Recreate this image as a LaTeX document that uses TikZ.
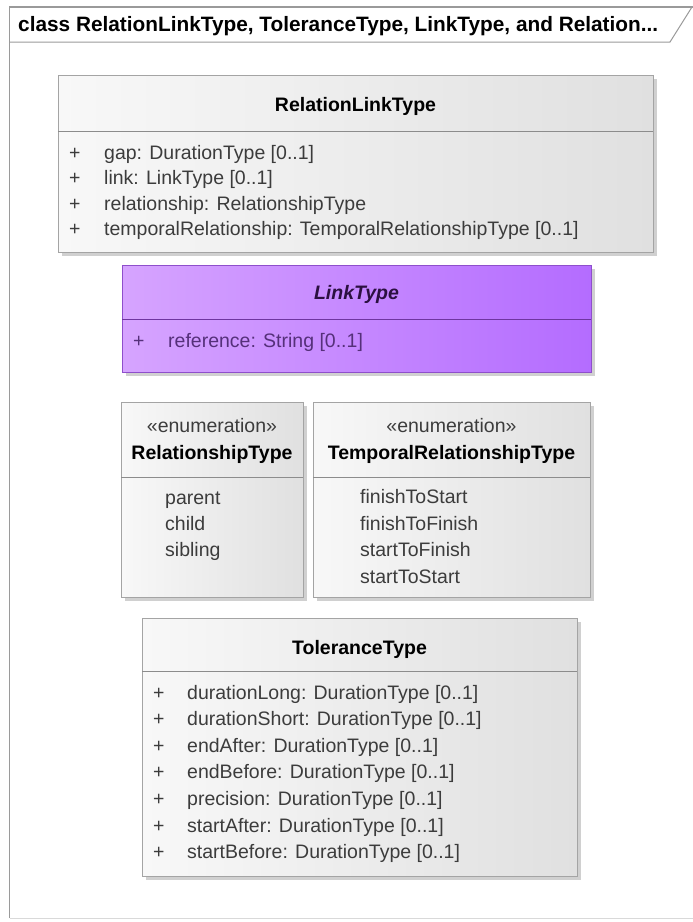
\documentclass[tikz,border=0pt]{standalone}
\usepackage{fontspec}
\setmainfont{Liberation Sans}
\usetikzlibrary{shadows}
\definecolor{framegray}{HTML}{9A9A9A}
\definecolor{boxborder}{HTML}{A4A4A4}
\definecolor{sepgray}{HTML}{8C8C8C}
\definecolor{attrtext}{HTML}{3C3C3C}
\definecolor{boxL}{HTML}{F8F8F8}
\definecolor{boxR}{HTML}{E0E0E0}
\definecolor{purpL}{HTML}{D6A4FF}
\definecolor{purpR}{HTML}{B46CFF}
\definecolor{purpborder}{HTML}{8E4FCB}
\definecolor{purpsep}{HTML}{6E35A0}
\definecolor{purptext}{HTML}{2B1040}
\definecolor{purpattr}{HTML}{55307A}
\begin{document}
\begin{tikzpicture}[x=1pt,y=-1pt,
  txt/.style={inner sep=0pt, font=\fontsize{19.5}{23}\selectfont},
  boxshape/.style={anchor=north west, inner sep=0pt, line width=0.9pt,
    drop shadow={shadow xshift=4pt, shadow yshift=-4pt, opacity=0.3, fill=black!60}},
  graybox/.style={boxshape, draw=boxborder, left color=boxL, right color=boxR},
  purplebox/.style={boxshape, draw=purpborder, left color=purpL, right color=purpR},
  sepline/.style={draw=sepgray, line width=0.9pt},
  purpsepline/.style={draw=purpsep, line width=0.9pt},
  titletxt/.style={txt, anchor=base, font=\fontsize{19.5}{23}\selectfont\bfseries, text=black},
  stereo/.style={txt, anchor=base, text=attrtext},
  attr/.style={txt, anchor=base west, text=attrtext},
  pattr/.style={txt, anchor=base west, text=purpattr},
  framestyle/.style={draw=framegray, line width=1.3pt}
]
\useasboundingbox (0,0) rectangle (693,922);
\fill[white] (0,0) rectangle (693,922);

% frame
\draw[framestyle] (9.5,918) -- (9.5,7) -- (693,7);
\draw[framestyle, line width=1pt] (9.5,42) -- (670,42) -- (692,7);
\draw[framestyle, line width=0.8pt, draw=black!15] (9.5,918) -- (693,918);
\node[txt, anchor=base west, font=\fontsize{20.8}{24}\selectfont\bfseries] (hdr) at (18,31)
  {class RelationLinkType, ToleranceType, LinkType, and Relation...};

% RelationLinkType
\node[graybox, minimum width=595pt, minimum height=177pt] (rlt) at (58,75) {};
\draw[sepline] (58,131) -- (653,131);
\node[titletxt] (rltt) at (355.5,111) {RelationLinkType};
\node[attr] (rltp1) at (69,159) {+};
\node[attr] (rlta1) at (104,159) {gap: DurationType [0..1]};
\node[attr] (rltp2) at (69,184) {+};
\node[attr] (rlta2) at (104,184) {link: LinkType [0..1]};
\node[attr] (rltp3) at (69,210) {+};
\node[attr] (rlta3) at (104,210) {relationship: RelationshipType};
\node[attr] (rltp4) at (69,235) {+};
\node[attr] (rlta4) at (104,235) {temporalRelationship: TemporalRelationshipType [0..1]};

% LinkType
\node[purplebox, minimum width=469pt, minimum height=107pt] (lt) at (122,265) {};
\draw[purpsepline] (122,319) -- (591,319);
\node[titletxt, text=purptext, font=\fontsize{19.5}{23}\selectfont\bfseries\itshape] (ltt) at (356.5,299) {LinkType};
\node[pattr] (ltp1) at (133,347) {+};
\node[pattr] (lta1) at (168,347) {reference: String [0..1]};

% RelationshipType
\node[graybox, minimum width=182pt, minimum height=195pt] (rst) at (121,402) {};
\draw[sepline] (121,477) -- (303,477);
\node[stereo] (rsts) at (212,432) {«enumeration»};
\node[titletxt] (rstt) at (212,459) {RelationshipType};
\node[attr] (rst1) at (165,504) {parent};
\node[attr] (rst2) at (165,530) {child};
\node[attr] (rst3) at (165,556) {sibling};

% TemporalRelationshipType
\node[graybox, minimum width=277pt, minimum height=195pt] (trt) at (313,402) {};
\draw[sepline] (313,477) -- (590,477);
\node[stereo] (trts) at (451.5,432) {«enumeration»};
\node[titletxt] (trtt) at (451.5,459) {TemporalRelationshipType};
\node[attr] (trt1) at (360,503) {finishToStart};
\node[attr] (trt2) at (360,530) {finishToFinish};
\node[attr] (trt3) at (360,556) {startToFinish};
\node[attr] (trt4) at (360,583) {startToStart};

% ToleranceType
\node[graybox, minimum width=435pt, minimum height=258pt] (tt) at (142,618) {};
\draw[sepline] (142,671) -- (577,671);
\node[titletxt] (ttt) at (359.5,654) {ToleranceType};
\node[attr] (ttp1) at (153,699) {+};
\node[attr] (tta1) at (187,699) {durationLong: DurationType [0..1]};
\node[attr] (ttp2) at (153,725) {+};
\node[attr] (tta2) at (187,725) {durationShort: DurationType [0..1]};
\node[attr] (ttp3) at (153,752) {+};
\node[attr] (tta3) at (187,752) {endAfter: DurationType [0..1]};
\node[attr] (ttp4) at (153,778) {+};
\node[attr] (tta4) at (187,778) {endBefore: DurationType [0..1]};
\node[attr] (ttp5) at (153,805) {+};
\node[attr] (tta5) at (187,805) {precision: DurationType [0..1]};
\node[attr] (ttp6) at (153,832) {+};
\node[attr] (tta6) at (187,832) {startAfter: DurationType [0..1]};
\node[attr] (ttp7) at (153,858) {+};
\node[attr] (tta7) at (187,858) {startBefore: DurationType [0..1]};
\end{tikzpicture}
\end{document}
